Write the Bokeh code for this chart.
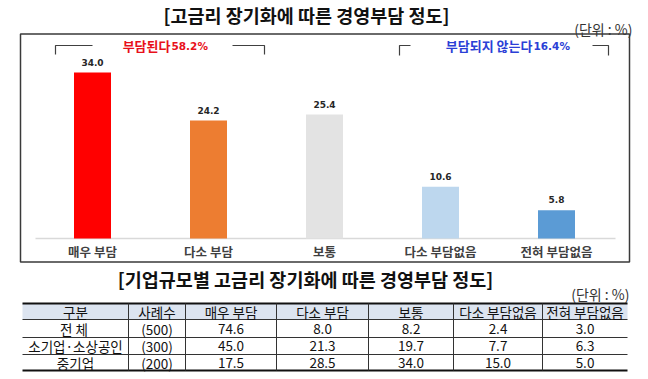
from bokeh.plotting import figure
from bokeh.models import Range1d, ColumnDataSource
from bokeh.core.properties import value
from bokeh.embed import file_html
from bokeh.resources import INLINE

# ---------------- data ----------------
chart_title = "[고금리 장기화에 따른 경영부담 정도]"
unit_text = "(단위 : %)"
categories = ["매우 부담", "다소 부담", "보통", "다소 부담없음", "전혀 부담없음"]
shares = [34.0, 24.2, 25.4, 10.6, 5.8]
group_names = ["부담된다", "부담되지 않는다"]
group_totals = [58.2, 16.4]

table_title = "[기업규모별 고금리 장기화에 따른 경영부담 정도]"
table_header = ["구분", "사례수", "매우 부담", "다소 부담", "보통", "다소 부담없음", "전혀 부담없음"]
row_labels = ["전  체", "소기업·소상공인", "중기업"]
sample_sizes = [500, 300, 200]
very_burden = [74.6, 45.0, 17.5]
some_burden = [8.0, 21.3, 28.5]
neutral = [8.2, 19.7, 34.0]
little_no_burden = [2.4, 7.7, 15.0]
no_burden = [3.0, 6.3, 5.0]

# ---------------- styles ----------------
bar_colors = ["#FF0000", "#ED7D31", "#E3E3E3", "#BDD7EE", "#5B9BD5"]
KR = value("Noto Sans CJK KR")
NUM = value("DejaVu Sans")

W, H = 648, 379
PX_PER_UNIT = 4.88      # vertical scale of the bar chart
BASE = 238              # baseline pixel row
CAT_W = 116             # pixel width of one category slot
FIRST = 92              # pixel centre of the first category
x0 = -FIRST / CAT_W
p = figure(width=W, height=H, output_backend="svg", toolbar_location=None,
           x_range=Range1d(x0, x0 + W / CAT_W),
           y_range=Range1d(-(H - BASE) / PX_PER_UNIT, BASE / PX_PER_UNIT),
           x_axis_location=None, y_axis_location=None, min_border=0,
           outline_line_color=None, background_fill_color="white",
           border_fill_color="white")
p.xgrid.visible = False
p.ygrid.visible = False
# page-pixel coordinate system for layout decorations
p.extra_x_ranges = {"pg": Range1d(0, W)}
p.extra_y_ranges = {"pg": Range1d(H, 0)}
PG = dict(x_range_name="pg", y_range_name="pg")

cat_x = list(range(len(categories)))

# ---------------- chart part ----------------
p.text(x=[306], y=[14], text=[chart_title], text_font=KR, text_font_size="18.5px",
       text_font_style="bold", text_color="#111111", text_align="center",
       text_baseline="middle", **PG)
p.text(x=[632], y=[28], text=[unit_text], text_font=KR, text_font_size="14px",
       text_color="#333333", text_align="right", text_baseline="middle", **PG)

# frame box
p.quad(left=[20], right=[629], top=[33.5], bottom=[261.5], fill_color=None,
       line_color="#3a3a3a", line_width=1.5, **PG)

# baseline
p.segment(x0=[35], y0=[BASE], x1=[615], y1=[BASE], line_color="#D9D9D9",
          line_width=1.5, **PG)

src = ColumnDataSource(dict(x=cat_x, cat=categories, val=shares, color=bar_colors,
                            label=[f"{v:.1f}" for v in shares],
                            label_y=[v + 2.1 for v in shares]))
p.vbar(x="x", top="val", bottom=0, width=37 / CAT_W, fill_color="color",
       line_color=None, source=src)
p.text(x="x", y="label_y", text="label", source=src, text_font=NUM,
       text_font_size="9px", text_font_style="bold", text_color="#262626",
       text_align="center", text_baseline="middle")
p.text(x=cat_x, y=[250.5] * len(categories), text=categories, text_font=KR,
       text_font_size="12.5px", text_font_style="bold", text_color="#404040",
       text_align="center", text_baseline="middle", y_range_name="pg")

# group brackets
br_col = "#404040"
p.multi_line(xs=[[55, 55, 92], [232, 264, 264], [399, 399, 410], [592, 608, 608]],
             ys=[[54, 45, 45], [45, 45, 54], [55, 45, 45], [45, 45, 55]],
             line_color=br_col, line_width=1.2, **PG)
p.text(x=[170, 532], y=[45, 45], text=group_names, text_font=KR,
       text_font_size="13px", text_font_style="bold",
       text_color=["#E8101A", "#2B3FD6"], text_align="right",
       text_baseline="middle", **PG)
p.text(x=[171, 533], y=[45.5, 45.5], text=[f"{v:.1f}%" for v in group_totals],
       text_font=NUM, text_font_size="10.5px", text_font_style="bold",
       text_color=["#E8101A", "#2B3FD6"], text_align="left",
       text_baseline="middle", **PG)

# ---------------- table part ----------------
p.text(x=[305], y=[278], text=[table_title], text_font=KR, text_font_size="18.5px",
       text_font_style="bold", text_color="#111111", text_align="center",
       text_baseline="middle", **PG)
p.text(x=[629], y=[293.5], text=[unit_text], text_font=KR, text_font_size="14px",
       text_color="#333333", text_align="right", text_baseline="middle", **PG)

col_edges = [22, 128, 185, 276, 368, 453, 542, 627]
row_edges = [303, 319, 337, 354, 370]
col_centers = [(a + b) / 2 for a, b in zip(col_edges[:-1], col_edges[1:])]
row_centers = [(a + b) / 2 for a, b in zip(row_edges[:-1], row_edges[1:])]

p.quad(left=[col_edges[0]], right=[col_edges[-1]], top=[row_edges[0]],
       bottom=[row_edges[1]], fill_color="#DCE4F0", line_color=None, **PG)

# horizontal rules
p.segment(x0=[col_edges[0]] * 2, x1=[col_edges[-1]] * 2,
          y0=[row_edges[0], row_edges[-1]], y1=[row_edges[0], row_edges[-1]],
          line_color="#111111", line_width=2, **PG)
p.segment(x0=[col_edges[0]] * 3, x1=[col_edges[-1]] * 3,
          y0=row_edges[1:-1], y1=row_edges[1:-1],
          line_color="#333333", line_width=1, **PG)
# vertical rules
inner = col_edges[1:-1]
p.segment(x0=inner, x1=inner, y0=[row_edges[0]] * len(inner),
          y1=[row_edges[-1]] * len(inner), line_color="#333333", line_width=1, **PG)

# header texts
p.text(x=col_centers, y=[row_centers[0]] * len(col_centers), text=table_header,
       text_font=KR, text_font_size="13.5px", text_color="#111111",
       text_align="center", text_baseline="middle", **PG)

# body texts
cell_x, cell_y, cell_t = [], [], []
for i in range(len(row_labels)):
    row = [row_labels[i], f"({sample_sizes[i]})", f"{very_burden[i]:.1f}",
           f"{some_burden[i]:.1f}", f"{neutral[i]:.1f}",
           f"{little_no_burden[i]:.1f}", f"{no_burden[i]:.1f}"]
    for j, t in enumerate(row):
        cell_x.append(col_centers[j])
        cell_y.append(row_centers[i + 1])
        cell_t.append(t)
p.text(x=cell_x, y=cell_y, text=cell_t, text_font=KR, text_font_size="13.5px",
       text_color="#111111", text_align="center", text_baseline="middle", **PG)

open("out.html", "w").write(file_html(p, INLINE))
